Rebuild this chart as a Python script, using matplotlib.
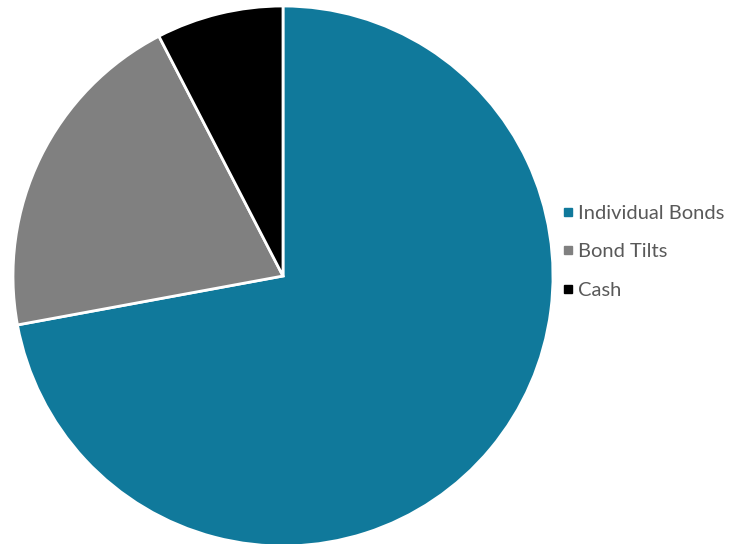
import matplotlib.pyplot as plt
from matplotlib.lines import Line2D

labels = ["Individual Bonds", "Bond Tilts", "Cash"]
shares = [72.1, 20.3, 7.6]
colors = ["#10799b", "#808080", "#000000"]

plt.rcParams["font.family"] = ["Lato", "DejaVu Sans"]

fig = plt.figure(figsize=(7.38, 5.44), dpi=100)
ax = fig.add_axes([0, 0, 1, 1])

# pie drawn in pixel-like units so the layout matches the reference
ax.pie(
    shares,
    colors=colors,
    startangle=90,
    counterclock=False,
    radius=270,
    wedgeprops={"edgecolor": "white", "linewidth": 2},
)
ax.set_xlim(-283, 455)
ax.set_ylim(-268, 276)
ax.set_aspect("equal")
ax.axis("off")

handles = [
    Line2D([], [], marker="s", linestyle="", markersize=6, color=c)
    for c in colors
]
fig.legend(
    handles,
    labels,
    loc="center left",
    bbox_to_anchor=(0.7615, 0.537),
    frameon=False,
    fontsize=14.5,
    labelcolor="#595959",
    handlelength=0.6,
    handletextpad=0.2,
    labelspacing=1.05,
    borderpad=0,
    borderaxespad=0,
)

fig.savefig("out.png", dpi=100)
